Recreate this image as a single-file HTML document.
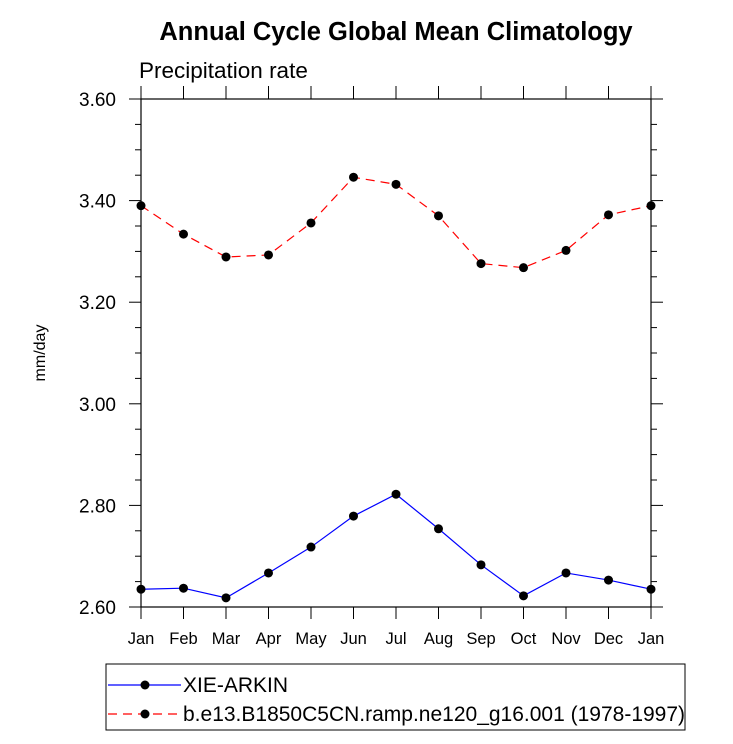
<!DOCTYPE html>
<html><head><meta charset="utf-8"><style>
body{margin:0;background:#fff}
svg text{font-family:"Liberation Sans",Arial,sans-serif}
</style></head><body>
<svg id="chart" width="733" height="739" viewBox="0 0 733 739" xmlns="http://www.w3.org/2000/svg">
<rect width="733" height="739" fill="#fff"/>
<text x="396" y="40" text-anchor="middle" font-size="25.5" font-weight="bold">Annual Cycle Global Mean Climatology</text>
<text x="139" y="78" font-size="22.5">Precipitation rate</text>
<text transform="translate(45,353) rotate(-90)" text-anchor="middle" font-size="16">mm/day</text>
<g id="axes"></g>
<g id="series"></g>
<rect x="106" y="664" width="579" height="66" fill="none" stroke="#000" stroke-width="1"/>
<g>
<line x1="108" y1="685" x2="181" y2="685" stroke="#00f" stroke-width="1.2"/>
<circle cx="145" cy="685" r="4.5"/>
<text x="183" y="692" font-size="21">XIE-ARKIN</text>
</g>
<g>
<line x1="108" y1="714" x2="181" y2="714" stroke="#f00" stroke-width="1.2" stroke-dasharray="9,6"/>
<circle cx="145" cy="714" r="4.5"/>
<text x="183" y="721" font-size="21">b.e13.B1850C5CN.ramp.ne120_g16.001 (1978-1997)</text>
</g>
</svg>
<script>
const months = ["Jan","Feb","Mar","Apr","May","Jun","Jul","Aug","Sep","Oct","Nov","Dec","Jan"];
const obsValues = [2.635,2.637,2.618,2.667,2.718,2.779,2.822,2.754,2.683,2.622,2.667,2.653,2.635];
const modelValues = [3.390,3.334,3.289,3.293,3.356,3.446,3.432,3.370,3.276,3.268,3.302,3.372,3.390];
const yTicks = [2.60,2.80,3.00,3.20,3.40,3.60];
const yTickLabels = ["2.60","2.80","3.00","3.20","3.40","3.60"];

const X0=141,X1=651,Y0=607,Y1=99,YMIN=2.6,YMAX=3.6;
const sx=i=>X0+(X1-X0)*i/(months.length-1);
const sy=v=>Y0-(v-YMIN)/(YMAX-YMIN)*(Y0-Y1);
const NS="http://www.w3.org/2000/svg";
function mk(tag,attrs,parent){const e=document.createElementNS(NS,tag);for(const k in attrs)e.setAttribute(k,attrs[k]);parent.appendChild(e);return e;}
const axes=document.getElementById('axes');
const frame=mk('rect',{x:X0,y:Y1,width:X1-X0,height:Y0-Y1,fill:'none',stroke:'#000','stroke-width':1.2},axes);


for(let v=YMIN;v<=YMAX+1e-9;v+=0.05){
  const major=Math.abs((v-YMIN)/0.2-Math.round((v-YMIN)/0.2))<1e-6;
  const y=sy(v),len=major?12:6;
  mk('line',{x1:X0-len,y1:y,x2:X0,y2:y,stroke:'#000','stroke-width':1},axes);
  mk('line',{x1:X1,y1:y,x2:X1+len,y2:y,stroke:'#000','stroke-width':1},axes);
}
yTicks.forEach((v,i)=>{
  const t=mk('text',{x:X0-25,y:sy(v)+7,'text-anchor':'end','font-size':19},axes);
  t.textContent=yTickLabels[i];
  
  
});
months.forEach((m,i)=>{
  const x=sx(i);
  mk('line',{x1:x,y1:Y0,x2:x,y2:Y0+12,stroke:'#000','stroke-width':1},axes);
  mk('line',{x1:x,y1:Y1-13,x2:x,y2:Y1,stroke:'#000','stroke-width':1},axes);
  const t=mk('text',{x:x,y:644,'text-anchor':'middle','font-size':16.5},axes);
  t.textContent=m;
  
  
});
const series=document.getElementById('series');
function draw(vals,color,dash,name){
  const g=mk('g',{},series);
  
  
  const pts=vals.map((v,i)=>sx(i)+','+sy(v)).join(' ');
  const attrs={points:pts,fill:'none',stroke:color,'stroke-width':1.2};
  if(dash)attrs['stroke-dasharray']=dash;
  mk('polyline',attrs,g);
  vals.forEach((v,i)=>{
    const c=mk('circle',{cx:sx(i),cy:sy(v),r:4.5,fill:'#000'},g);
    
    
  });
}
draw(modelValues,'#f00','9,6','model-series');
draw(obsValues,'#00f',null,'xie-arkin-series');
</script>
</body></html>
